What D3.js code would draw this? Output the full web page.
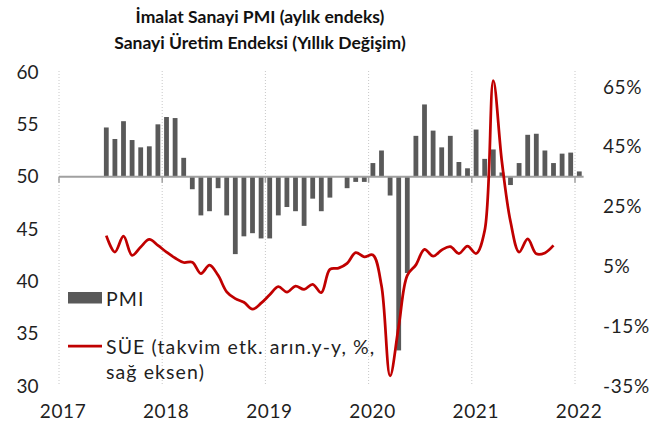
<!DOCTYPE html>
<html>
<head>
<meta charset="utf-8">
<script src="https://cdn.jsdelivr.net/npm/d3@7"></script>
<style>
    body { margin: 0; background: #fff; }
    #chart-area { width: 668px; height: 430px; }
    text { font-family: Lato, "Open Sans", sans-serif; fill: #1f1f1f; }
</style>
</head>
<body>
<div id="chart-area"></div>
<script>

// chart data
const titleLines = ['İmalat Sanayi PMI (aylık endeks)', 'Sanayi Üretim Endeksi (Yıllık Değişim)']
const years = [2017, 2018, 2019, 2020, 2021, 2022]
const leftTicks = [30, 35, 40, 45, 50, 55, 60]
const rightTicks = [-35, -15, 5, 25, 45, 65]

const pmiMonths = [
    '2017-06', '2017-07', '2017-08', '2017-09', '2017-10', '2017-11', '2017-12',
    '2018-01', '2018-02', '2018-03', '2018-04', '2018-05', '2018-06', '2018-07', '2018-08', '2018-09', '2018-10', '2018-11', '2018-12',
    '2019-01', '2019-02', '2019-03', '2019-04', '2019-05', '2019-06', '2019-07', '2019-08', '2019-09', '2019-10', '2019-11', '2019-12',
    '2020-01', '2020-02', '2020-03', '2020-04', '2020-05', '2020-06', '2020-07', '2020-08', '2020-09', '2020-10', '2020-11', '2020-12',
    '2021-01', '2021-02', '2021-03', '2021-04', '2021-05', '2021-06', '2021-07', '2021-08', '2021-09', '2021-10', '2021-11', '2021-12',
    '2022-01']
const pmiValues = [
    54.7, 53.6, 55.3, 53.5, 52.8, 52.9, 55.0,
    55.7, 55.6, 51.8, 48.8, 46.3, 46.7, 48.9, 46.3, 42.6, 44.3, 44.6, 44.1,
    44.1, 46.3, 47.1, 46.7, 45.3, 47.9, 46.7, 48.0, 50.0, 48.9, 49.5, 49.5,
    51.3, 52.5, 48.2, 33.4, 40.8, 53.9, 56.9, 54.4, 52.8, 53.9, 51.4, 50.8,
    54.5, 51.7, 52.6, 50.4, 49.2, 51.3, 54.0, 54.1, 52.5, 51.3, 52.2, 52.3,
    50.5]

// SÜE line, one point per month slot from 2017-06 to 2021-10
const sueMonths = pmiMonths.slice(0, 53)
const sueValues = [
    15.3, 9.8, 15.1, 8.7, 11.5, 14.0, 12.0,
    9.8, 7.8, 6.3, 6.4, 2.6, 5.4, 2.0, -3.5, -5.8, -7.0, -9.3, -7.3,
    -4.5, -1.8, -3.6, -1.6, -2.7, -1.0, -3.8, 4.0, 4.4, 6.0, 9.6, 8.2,
    8.8, -1.5, -31.6, -15.0, 2.0, 5.5, 10.7, 8.4, 10.5, 11.6, 9.3, 11.8,
    9.3, 17.0, 67.1, 40.0, 20.0, 9.8, 14.2, 9.2, 9.5, 12.0]

const legendLabels = ['PMI', 'SÜE (takvim etk. arın.y-y, %,', 'sağ eksen)']


class PmiChart {

    constructor(parentElement) {
        this.parentElement = parentElement;
        this.barColor = '#595959'
        this.lineColor = '#c00000'
        this.initVis()
    }

    initVis() {
        let vis = this;

        vis.width = 668;
        vis.height = 430;
        vis.plot = {left: 59, right: 583.6, top: 72, bottom: 386};

        vis.svg = d3.select('#' + vis.parentElement).append('svg')
            .attr('width', vis.width)
            .attr('height', vis.height);

        // month index since jan 2017
        vis.monthIndex = s => (+s.slice(0, 4) - 2017) * 12 + (+s.slice(5, 7) - 1);

        vis.x = d3.scaleLinear()
            .domain([0, 61])
            .range([vis.plot.left, vis.plot.right]);

        vis.yLeft = d3.scaleLinear()
            .domain([30, 60])
            .range([vis.plot.bottom, vis.plot.top]);

        vis.yRight = d3.scaleLinear()
            .domain([-35, 70])
            .range([vis.plot.bottom, vis.plot.top]);

        // title
        vis.svg.append('g')
            .attr('class', 'title')
            .selectAll('text')
            .data(titleLines)
            .enter().append('text')
            .attr('x', 260)
            .attr('y', (d, i) => 23 + i * 25.5)
            .attr('text-anchor', 'middle')
            .style('font-size', '17.5px')
            .style('font-weight', 'bold')
            .style('fill', '#111')
            .text(d => d);

        vis.drawGrid();
        vis.drawAxes();
        vis.drawBars();
        vis.drawLine();
        vis.drawLegend();
    }

    drawGrid() {
        let vis = this;

        // dotted year lines
        vis.svg.append('g')
            .attr('class', 'grid')
            .selectAll('line')
            .data(years)
            .enter().append('line')
            .attr('x1', d => vis.x((d - 2017) * 12))
            .attr('x2', d => vis.x((d - 2017) * 12))
            .attr('y1', vis.plot.top - 1)
            .attr('y2', vis.plot.bottom)
            .attr('stroke', '#c8c8c8')
            .attr('stroke-width', 1)
            .attr('stroke-dasharray', '1,2');
    }

    drawAxes() {
        let vis = this;

        vis.leftAxis = vis.svg.append('g')
            .attr('class', 'axis y-axis')
            .attr('transform', `translate(38.5, 0)`)
            .call(d3.axisLeft(vis.yLeft).tickValues(leftTicks).tickSize(0).tickPadding(0));

        vis.rightAxis = vis.svg.append('g')
            .attr('class', 'axis y-axis-right')
            .attr('transform', `translate(603, 0)`)
            .call(d3.axisRight(vis.yRight).tickValues(rightTicks).tickSize(0).tickPadding(0)
                .tickFormat(d => d + '%'));

        vis.xAxis = vis.svg.append('g')
            .attr('class', 'axis x-axis')
            .attr('transform', `translate(3.5, ${vis.plot.bottom})`)
            .call(d3.axisBottom(vis.x).tickValues(years.map(d => (d - 2017) * 12)).tickSize(0).tickPadding(19)
                .tickFormat(d => 2017 + d / 12));

        vis.svg.selectAll('.axis .domain').remove();
        vis.svg.selectAll('.axis text')
            .style('font-size', '19px')
            .style('fill', '#1f1f1f');
        vis.svg.selectAll('.x-axis text, .y-axis-right text')
            .style('letter-spacing', '0.6px');
    }

    drawBars() {
        let vis = this;
        let base = vis.yLeft(50);
        let pmiData = pmiMonths.map((m, i) => ({idx: vis.monthIndex(m), value: pmiValues[i]}));

        vis.svg.append('g')
            .attr('class', 'bars')
            .selectAll('rect')
            .data(pmiData)
            .enter().append('rect')
            .attr('x', d => vis.x(d.idx + 0.5) - 2.4)
            .attr('width', 4.8)
            .attr('y', d => Math.min(base, vis.yLeft(d.value)))
            .attr('height', d => Math.abs(vis.yLeft(d.value) - base))
            .attr('fill', vis.barColor);

        // 50 line + year ticks
        vis.svg.append('line')
            .attr('x1', vis.x(0))
            .attr('x2', vis.x(61))
            .attr('y1', base)
            .attr('y2', base)
            .attr('stroke', '#a0a0a0')
            .attr('stroke-width', 2);

        vis.svg.append('g')
            .selectAll('line')
            .data(years)
            .enter().append('line')
            .attr('x1', d => vis.x((d - 2017) * 12))
            .attr('x2', d => vis.x((d - 2017) * 12))
            .attr('y1', base)
            .attr('y2', base + 6)
            .attr('stroke', '#a0a0a0')
            .attr('stroke-width', 1.5);
    }

    drawLine() {
        let vis = this;
        let sueData = sueMonths.map((m, i) => ({idx: vis.monthIndex(m), value: sueValues[i]}));

        let line = d3.line()
            .x(d => vis.x(d.idx + 0.5))
            .y(d => vis.yRight(d.value))
            .curve(d3.curveCatmullRom.alpha(0.5));

        vis.svg.append('path')
            .datum(sueData)
            .attr('class', 'sue-line')
            .attr('d', line)
            .attr('fill', 'none')
            .attr('stroke', vis.lineColor)
            .attr('stroke-width', 2.75)
            .attr('stroke-linejoin', 'round');
    }

    drawLegend() {
        let vis = this;

        let legend = vis.svg.append('g')
            .attr('class', 'legend');

        legend.append('rect')
            .attr('x', 68)
            .attr('y', 292)
            .attr('width', 34)
            .attr('height', 11.5)
            .attr('fill', vis.barColor);

        legend.append('line')
            .attr('x1', 68)
            .attr('x2', 102)
            .attr('y1', 346)
            .attr('y2', 346)
            .attr('stroke', vis.lineColor)
            .attr('stroke-width', 2.75);

        legend.selectAll('text')
            .data(legendLabels)
            .enter().append('text')
            .attr('x', 106)
            .attr('y', (d, i) => [305.5, 353.5, 378.5][i])
            .style('font-size', '19.5px')
            .style('letter-spacing', '1.1px')
            .text(d => d);
    }
}

new PmiChart('chart-area');

</script>
</body>
</html>
